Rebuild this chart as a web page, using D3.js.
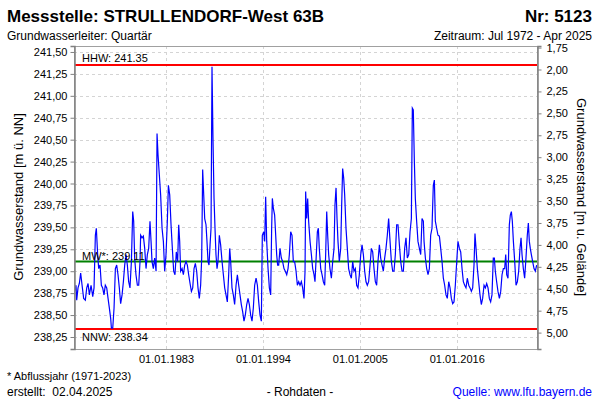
<!DOCTYPE html>
<html>
	<head>
		<meta charset="utf-8" />
		<script src="https://d3js.org/d3.v7.min.js"></script>
		<style>
			body {
				margin: 0;
				background: #fff;
			}
			text {
				font-family: 'Liberation Sans', Arial, sans-serif;
			}
			.grid line {
				stroke: #d4d4d4;
				stroke-dasharray: 3, 3;
			}
		</style>
	</head>
	<body>
		<svg id="chart" width="600" height="400"></svg>
		<script>
			const zeit = [
				1972.63, 1972.78, 1972.86, 1973.01, 1973.16, 1973.31, 1973.47, 1973.65, 1973.84, 1974.0, 1974.15, 1974.3, 1974.49, 1974.68, 1974.83,
				1974.98, 1975.09, 1975.24, 1975.36, 1975.51, 1975.66, 1975.81, 1975.96, 1976.11, 1976.27, 1976.42, 1976.57, 1976.72, 1976.8, 1976.95,
				1977.1, 1977.25, 1977.4, 1977.55, 1977.7, 1977.85, 1978.01, 1978.16, 1978.31, 1978.46, 1978.61, 1978.76, 1978.91, 1979.07, 1979.22,
				1979.33, 1979.44, 1979.59, 1979.75, 1979.9, 1980.05, 1980.12, 1980.28, 1980.43, 1980.58, 1980.73, 1980.88, 1981.03, 1981.18, 1981.3,
				1981.41, 1981.56, 1981.71, 1981.87, 1981.98, 1982.09, 1982.24, 1982.39, 1982.55, 1982.7, 1982.85, 1983.0, 1983.15, 1983.27, 1983.42,
				1983.57, 1983.72, 1983.87, 1984.02, 1984.17, 1984.32, 1984.44, 1984.55, 1984.66, 1984.82, 1984.97, 1985.12, 1985.27, 1985.42, 1985.57,
				1985.76, 1985.88, 1986.03, 1986.18, 1986.33, 1986.48, 1986.63, 1986.78, 1986.93, 1987.05, 1987.16, 1987.28, 1987.39, 1987.54, 1987.65,
				1987.77, 1987.88, 1988.0, 1988.11, 1988.22, 1988.33, 1988.45, 1988.56, 1988.67, 1988.79, 1988.9, 1989.05, 1989.2, 1989.36, 1989.51,
				1989.66, 1989.81, 1989.96, 1990.11, 1990.23, 1990.34, 1990.49, 1990.64, 1990.79, 1990.95, 1991.1, 1991.25, 1991.4, 1991.55, 1991.7,
				1991.85, 1992.0, 1992.16, 1992.31, 1992.46, 1992.61, 1992.76, 1992.91, 1993.06, 1993.22, 1993.37, 1993.52, 1993.67, 1993.82, 1993.93,
				1994.09, 1994.2, 1994.31, 1994.43, 1994.58, 1994.73, 1994.88, 1994.99, 1995.07, 1995.18, 1995.33, 1995.45, 1995.56, 1995.67, 1995.79,
				1995.94, 1996.09, 1996.24, 1996.39, 1996.54, 1996.7, 1996.85, 1997.0, 1997.15, 1997.3, 1997.45, 1997.6, 1997.76, 1997.91, 1998.06,
				1998.21, 1998.36, 1998.51, 1998.66, 1998.78, 1998.85, 1998.97, 1999.08, 1999.19, 1999.35, 1999.5, 1999.65, 1999.8, 1999.91, 2000.06,
				2000.18, 2000.29, 2000.4, 2000.56, 2000.71, 2000.86, 2001.01, 2001.12, 2001.24, 2001.35, 2001.46, 2001.61, 2001.77, 2001.92, 2002.07,
				2002.18, 2002.3, 2002.41, 2002.52, 2002.67, 2002.83, 2002.94, 2003.05, 2003.17, 2003.28, 2003.43, 2003.58, 2003.73, 2003.89, 2004.04,
				2004.19, 2004.34, 2004.49, 2004.64, 2004.79, 2004.94, 2005.1, 2005.25, 2005.4, 2005.55, 2005.7, 2005.85, 2006.0, 2006.16, 2006.31,
				2006.46, 2006.61, 2006.76, 2006.91, 2007.06, 2007.22, 2007.37, 2007.52, 2007.67, 2007.82, 2007.97, 2008.12, 2008.27, 2008.43, 2008.58,
				2008.73, 2008.88, 2009.03, 2009.18, 2009.33, 2009.49, 2009.64, 2009.79, 2009.94, 2010.09, 2010.24, 2010.39, 2010.55, 2010.7, 2010.85,
				2010.96, 2011.07, 2011.19, 2011.3, 2011.45, 2011.6, 2011.76, 2011.91, 2012.06, 2012.21, 2012.29, 2012.44, 2012.59, 2012.74, 2012.89,
				2013.04, 2013.19, 2013.34, 2013.46, 2013.57, 2013.72, 2013.87, 2014.03, 2014.18, 2014.33, 2014.48, 2014.63, 2014.78, 2014.93, 2015.09,
				2015.24, 2015.39, 2015.54, 2015.69, 2015.84, 2016.0, 2016.14, 2016.3, 2016.45, 2016.6, 2016.75, 2016.9, 2017.05, 2017.2, 2017.36,
				2017.51, 2017.66, 2017.81, 2017.96, 2018.07, 2018.19, 2018.34, 2018.49, 2018.64, 2018.79, 2018.94, 2019.1, 2019.25, 2019.4, 2019.55,
				2019.7, 2019.85, 2020.0, 2020.15, 2020.27, 2020.38, 2020.53, 2020.68, 2020.84, 2020.99, 2021.14, 2021.29, 2021.44, 2021.56, 2021.67,
				2021.82, 2021.97, 2022.08, 2022.2, 2022.31, 2022.43, 2022.58, 2022.73, 2022.88, 2023.03, 2023.18, 2023.3, 2023.41, 2023.56, 2023.71,
				2023.86, 2024.01, 2024.13, 2024.24, 2024.35, 2024.47, 2024.62, 2024.77, 2024.92, 2025.07
			];
			const stand = [
				238.77, 238.84, 238.67, 238.81, 238.86, 238.98, 238.84, 238.69, 238.67, 238.81, 238.86, 238.73, 238.84, 238.71, 238.81,
				239.41, 239.49, 239.19, 239.03, 239.07, 238.84, 238.81, 238.73, 238.84, 238.81, 238.69, 238.58, 238.46, 238.35, 238.35,
				238.58, 239.03, 239.07, 238.96, 238.81, 238.63, 238.73, 238.88, 239.07, 239.19, 239.07, 238.88, 238.81, 239.11, 239.68,
				239.57, 239.15, 238.96, 238.84, 238.84, 239.11, 239.41, 239.38, 239.4, 239.26, 239.03, 239.19, 239.26, 239.57, 239.34,
				239.11, 239.03, 239.15, 239.0, 240.57, 240.33, 240.1, 239.87, 239.49, 239.34, 239.0, 239.19, 239.57, 239.98, 239.87,
				239.53, 239.26, 239.0, 238.96, 239.22, 239.11, 239.53, 239.34, 239.0, 239.03, 238.96, 239.07, 239.11, 239.07, 238.96,
				238.84, 238.77, 238.81, 239.03, 239.09, 239.0, 238.81, 238.69, 238.84, 239.15, 240.16, 239.87, 239.6, 239.53, 239.34,
				239.11, 239.07, 239.3, 239.49, 241.33, 240.52, 239.83, 239.49, 239.19, 239.03, 239.11, 239.41, 239.3, 239.11, 238.96,
				238.81, 238.73, 238.65, 238.96, 239.26, 239.11, 238.81, 238.73, 238.62, 238.84, 238.96, 238.84, 238.73, 238.62, 238.54,
				238.43, 238.5, 238.62, 238.69, 238.62, 238.5, 238.43, 238.58, 238.84, 238.92, 238.84, 238.65, 238.5, 238.43, 239.41,
				239.45, 239.34, 239.85, 239.34, 239.03, 238.81, 238.73, 239.49, 239.83, 239.72, 239.64, 239.41, 239.19, 239.07, 239.07,
				239.26, 239.15, 239.11, 239.03, 239.0, 238.96, 239.03, 239.19, 239.45, 239.41, 239.11, 239.11, 239.0, 238.84, 238.88,
				238.84, 238.88, 238.81, 238.69, 239.0, 239.91, 239.6, 239.83, 239.57, 239.34, 239.19, 239.03, 238.96, 238.88, 239.19,
				239.45, 239.49, 239.26, 239.03, 238.96, 238.88, 238.84, 239.19, 239.68, 239.41, 239.19, 239.03, 238.92, 239.11, 239.26,
				239.76, 239.95, 239.6, 239.34, 239.11, 239.26, 239.76, 240.17, 240.06, 239.87, 239.49, 239.26, 239.03, 238.96, 238.92,
				239.11, 239.0, 239.03, 238.84, 238.81, 238.96, 239.19, 239.3, 239.19, 239.0, 238.88, 238.84, 238.88, 239.07, 239.26,
				239.22, 239.03, 238.88, 238.84, 239.11, 239.3, 239.15, 239.07, 239.0, 239.15, 239.26, 239.41, 239.6, 239.34, 239.11,
				239.0, 239.0, 239.19, 239.53, 239.53, 239.3, 239.11, 239.0, 239.0, 239.26, 239.38, 239.15, 239.19, 239.45, 239.6,
				240.86, 240.84, 240.25, 239.83, 239.57, 239.34, 239.26, 239.19, 239.6, 239.57, 239.34, 239.15, 239.03, 238.96, 239.03,
				239.41, 239.49, 239.98, 240.04, 239.57, 239.49, 239.41, 239.4, 239.26, 239.11, 238.92, 238.84, 238.73, 238.69, 238.88,
				238.81, 238.69, 238.63, 238.65, 238.84, 239.11, 239.34, 239.26, 239.22, 239.03, 238.88, 238.84, 238.81, 238.92, 238.84,
				238.81, 238.77, 238.81, 239.07, 239.43, 239.26, 239.03, 238.88, 238.73, 238.62, 238.69, 238.84, 238.81, 238.86, 238.81,
				238.69, 238.65, 238.73, 239.15, 239.15, 239.0, 238.88, 238.77, 238.69, 238.77, 238.96, 239.03, 239.03, 239.19, 238.96,
				238.92, 239.53, 239.64, 239.68, 239.57, 239.34, 239.11, 238.84, 238.88, 239.0, 239.26, 239.38, 239.19, 239.03, 238.92,
				239.15, 239.41, 239.55, 239.34, 239.26, 239.19, 239.11, 239.03, 239.0, 239.07
			];

			// Kennwerte
			const kennNamen = ['HHW', 'MW*', 'NNW'];
			const kennWerte = [241.35, 239.11, 238.34];
			const kennFarben = ['#ff0000', '#008000', '#ff0000'];
			const gelaende = 243.3; // Geländehöhe m ü. NN

			const linksTicks = [238.25, 238.5, 238.75, 239.0, 239.25, 239.5, 239.75, 240.0, 240.25, 240.5, 240.75, 241.0, 241.25, 241.5];
			const rechtsTicks = [1.75, 2.0, 2.25, 2.5, 2.75, 3.0, 3.25, 3.5, 3.75, 4.0, 4.25, 4.5, 4.75, 5.0];
			const xTicks = ['1983-01-01', '1994-01-01', '2005-01-01', '2016-01-01'];
			const zeitraum = ['1972-07-22', '2025-02-10'];

			const svg = d3.select('#chart');
			const margin = { top: 46, right: 63, bottom: 51, left: 74 };
			const width = 600,
				height = 400;
			const x0 = margin.left,
				x1 = width - margin.right,
				y0 = margin.top,
				y1 = height - margin.bottom;

			function dezimalZuDatum(y) {
				const yr = Math.floor(y);
				const s = new Date(yr, 0, 1),
					e = new Date(yr + 1, 0, 1);
				return new Date(+s + (y - yr) * (e - s));
			}

			const x = d3
				.scaleTime()
				.domain(zeitraum.map((d) => new Date(d)))
				.range([x0, x1]);
			const y = d3.scaleLinear().domain([238.113, 241.568]).range([y1, y0]);
			const yR = d3
				.scaleLinear()
				.domain([gelaende - 238.113, gelaende - 241.568])
				.range([y1, y0]);

			const komma = (f) => (d) => d3.format(f)(d).replace('.', ',');

			// Gitter
			const grid = svg.append('g').attr('class', 'grid');
			grid
				.selectAll('line.h')
				.data(linksTicks)
				.join('line')
				.attr('x1', x0)
				.attr('x2', x1)
				.attr('y1', (d) => Math.round(y(d)) + 0.5)
				.attr('y2', (d) => Math.round(y(d)) + 0.5);
			grid
				.selectAll('line.v')
				.data(xTicks)
				.join('line')
				.attr('x1', (d) => Math.round(x(new Date(d))) + 0.5)
				.attr('x2', (d) => Math.round(x(new Date(d))) + 0.5)
				.attr('y1', y0)
				.attr('y2', y1);

			// Kennlinien
			kennWerte.forEach((w, i) => {
				svg.append('line')
					.attr('x1', x0)
					.attr('x2', x1)
					.attr('y1', y(w))
					.attr('y2', y(w))
					.attr('stroke', kennFarben[i])
					.attr('stroke-width', 2);
			});

			// Ganglinie
			const daten = zeit.map((t, i) => ({ t: dezimalZuDatum(t), v: stand[i] }));
			const line = d3
				.line()
				.x((d) => x(d.t))
				.y((d) => y(d.v));
			svg.append('path').datum(daten).attr('d', line).attr('fill', 'none').attr('stroke', '#0000ff').attr('stroke-width', 1.2);

			// Beschriftung Kennwerte
			const kennY = [y(kennWerte[0]) - 3, y(kennWerte[1]) - 2, y(kennWerte[2]) + 12];
			kennWerte.forEach((w, i) => {
				svg.append('text')
					.attr('x', 82)
					.attr('y', kennY[i])
					.attr('font-size', 11)
					.attr('fill', '#000')
					.text(kennNamen[i] + ': ' + w.toFixed(2));
			});

			// Rahmen
			svg.append('rect')
				.attr('x', x0 + 0.5)
				.attr('y', y0 + 0.5)
				.attr('width', x1 - x0)
				.attr('height', y1 - y0)
				.attr('fill', 'none')
				.attr('stroke', '#a0a0a0');

			// Achsen
			const axL = svg
				.append('g')
				.attr('transform', `translate(${x0 + 0.5},0)`)
				.call(d3.axisLeft(y).tickValues(linksTicks).tickFormat(komma('.2f')).tickSize(4).tickPadding(3));
			const axR = svg
				.append('g')
				.attr('transform', `translate(${x1 + 0.5},0)`)
				.call(d3.axisRight(yR).tickValues(rechtsTicks).tickFormat(komma('.2f')).tickSize(4).tickPadding(5));
			const axB = svg
				.append('g')
				.attr('transform', `translate(0,${y1 + 0.5})`)
				.call(
					d3
						.axisBottom(x)
						.tickValues(xTicks.map((d) => new Date(d)))
						.tickFormat(d3.timeFormat('%d.%m.%Y'))
						.tickSize(0)
						.tickPadding(6)
				);
			[axL, axR, axB].forEach((a) => {
				a.selectAll('.domain').attr('stroke', '#808080').attr('stroke-width', 1.5);
				a.selectAll('.tick line').attr('stroke', '#808080');
				a.selectAll('text').attr('font-size', 11).attr('fill', '#000').attr('font-family', "'Liberation Sans', Arial, sans-serif");
			});
			axB.select('.domain').remove();

			// Achsentitel
			svg.append('text')
				.attr('transform', 'translate(23,197) rotate(-90)')
				.attr('text-anchor', 'middle')
				.attr('font-size', 13)
				.text('Grundwasserstand [m ü. NN]');
			svg.append('text')
				.attr('transform', 'translate(577,197) rotate(90)')
				.attr('text-anchor', 'middle')
				.attr('font-size', 13)
				.text('Grundwasserstand [m u. Gelände]');

			// Kopf
			svg.append('text').attr('x', 7).attr('y', 22).attr('font-size', 17).attr('font-weight', 'bold').text('Messstelle: STRULLENDORF-West 63B');
			svg.append('text').attr('x', 592).attr('y', 22).attr('font-size', 17).attr('font-weight', 'bold').attr('text-anchor', 'end').text('Nr: 5123');
			svg.append('text').attr('x', 7).attr('y', 40).attr('font-size', 12).text('Grundwasserleiter: Quartär');
			svg.append('text').attr('x', 592).attr('y', 40).attr('font-size', 12).attr('text-anchor', 'end').text('Zeitraum: Jul 1972 - Apr 2025');

			// Fuß
			svg.append('text').attr('x', 7).attr('y', 380).attr('font-size', 11).text('* Abflussjahr (1971-2023)');
			svg.append('text').attr('x', 7).attr('y', 396).attr('font-size', 12).attr('xml:space', 'preserve').text('erstellt:  02.04.2025');
			svg.append('text').attr('x', 300).attr('y', 396).attr('font-size', 12).attr('text-anchor', 'middle').text('- Rohdaten -');
			svg.append('text').attr('x', 592).attr('y', 396).attr('font-size', 12).attr('text-anchor', 'end').attr('fill', '#0000ff').text('Quelle: www.lfu.bayern.de');
		</script>
	</body>
</html>
